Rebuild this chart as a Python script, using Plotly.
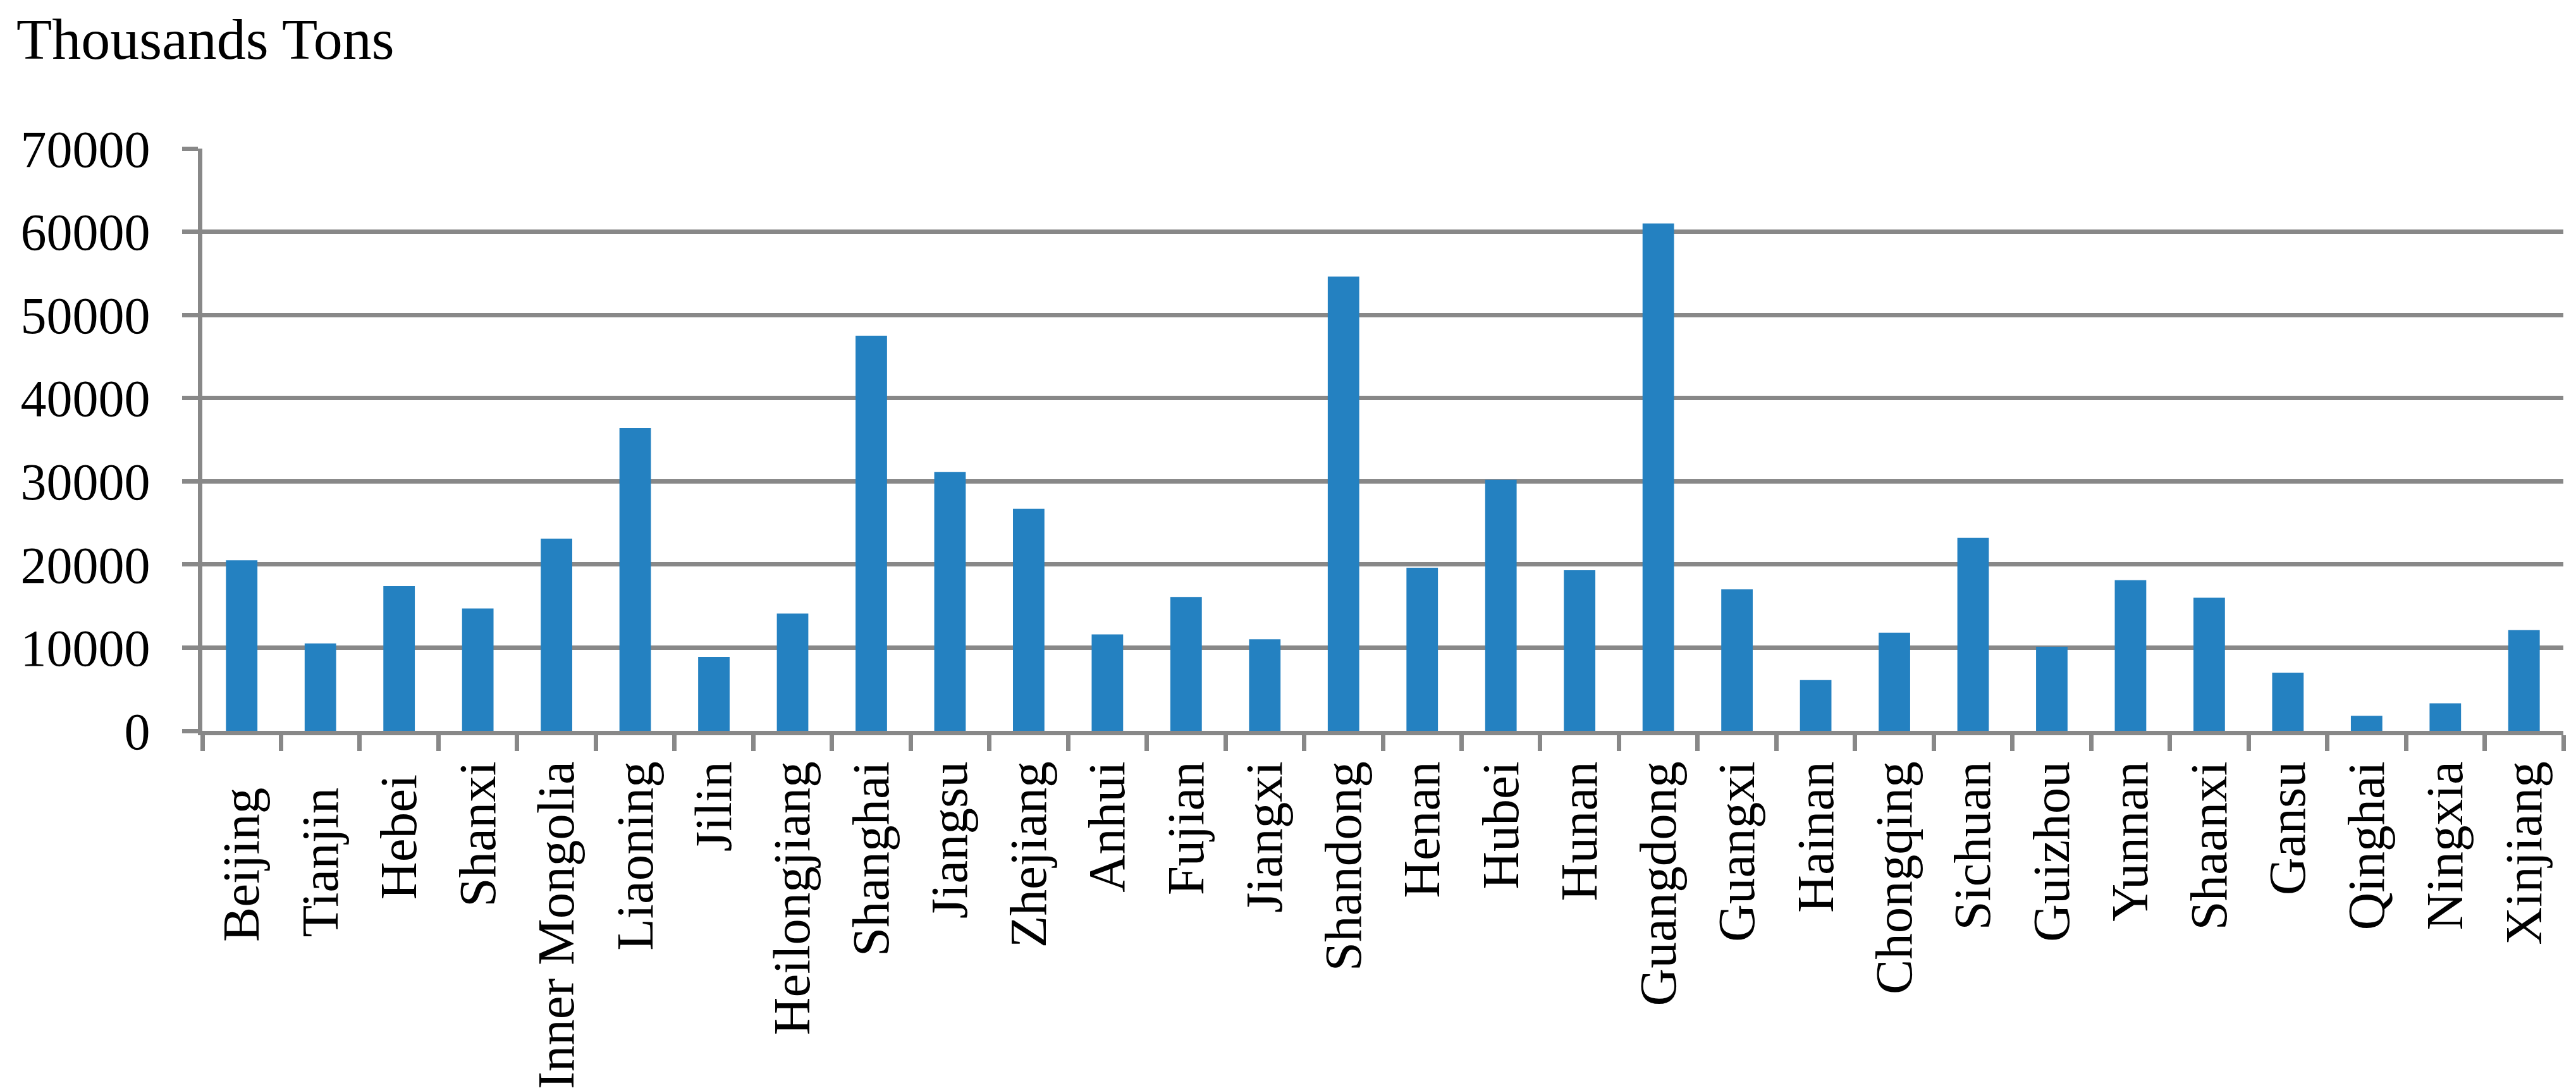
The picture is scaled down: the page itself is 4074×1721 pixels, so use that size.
import plotly.graph_objects as go

provinces = ["Beijing", "Tianjin", "Hebei", "Shanxi", "Inner Mongolia", "Liaoning", "Jilin",
             "Heilongjiang", "Shanghai", "Jiangsu", "Zhejiang", "Anhui", "Fujian", "Jiangxi",
             "Shandong", "Henan", "Hubei", "Hunan", "Guangdong", "Guangxi", "Hainan", "Chongqing",
             "Sichuan", "Guizhou", "Yunnan", "Shaanxi", "Gansu", "Qinghai", "Ningxia", "Xinjiang"]
values = [20500, 10500, 17400, 14700, 23100, 36400, 8900,
          14100, 47500, 31100, 26700, 11600, 16100, 11000,
          54600, 19600, 30200, 19300, 61000, 17000, 6100, 11800,
          23200, 10100, 18100, 16000, 7000, 1800, 3300, 12100]
# trailing blanks seen after some names in the source labels
label_pad = {"Beijing": 2, "Tianjin": 2, "Hebei": 1}
y_ticks = [0, 10000, 20000, 30000, 40000, 50000, 60000, 70000]
y_title = "Thousands Tons"

W, H = 4074, 1721
L, R, T, B = 311.5, 27.5, 226.5, 572.5
GRAY = "#888888"
FONT = "Liberation Serif"

fig = go.Figure(go.Bar(x=provinces, y=values, marker=dict(color="#2481C1", line=dict(width=0))))

fig.update_layout(
    width=W, height=H,
    margin=dict(l=L, r=R, t=T, b=B, autoexpand=False),
    paper_bgcolor="white", plot_bgcolor="white",
    bargap=0.6,
    showlegend=False,
    font=dict(family=FONT, color="black"),
)
fig.update_xaxes(
    type="category", tickson="boundaries", tickangle=-90,
    tickvals=provinces,
    ticktext=[p + "\u00a0" * label_pad.get(p, 0) for p in provinces],
    ticks="outside", ticklen=25, tickwidth=7, tickcolor=GRAY,
    showline=True, linewidth=7, linecolor=GRAY,
    showgrid=False, automargin=False,
    tickfont=dict(family=FONT, size=83, color="black"),
    ticklabelstandoff=8,
)
fig.update_yaxes(
    range=[0, 70000], tickvals=y_ticks, ticktext=[str(v) for v in y_ticks],
    ticks="outside", ticklen=25, tickwidth=7, tickcolor=GRAY,
    showline=True, linewidth=7, linecolor=GRAY,
    showgrid=True, gridwidth=7, gridcolor=GRAY, zeroline=False,
    automargin=False,
    tickfont=dict(family=FONT, size=82, color="black"),
    ticklabelstandoff=34,
)
pw = W - L - R
fig.add_annotation(
    text=y_title, xref="paper", yref="paper", x=(16 - L) / pw,
    y=1, yshift=T - 1, xanchor="left", yanchor="top", showarrow=False,
    borderpad=0,
    font=dict(family=FONT, size=92, color="black"),
)
fig.write_html("out.html")
